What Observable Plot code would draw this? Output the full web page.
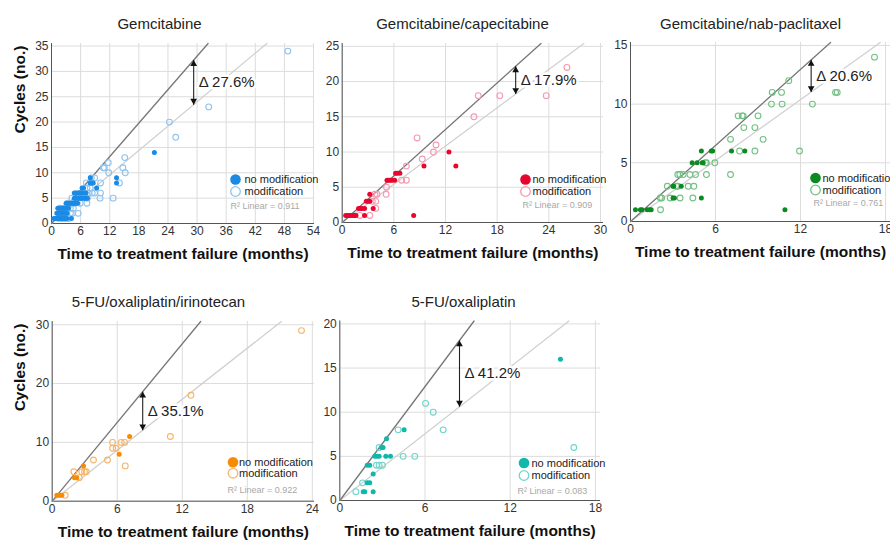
<!DOCTYPE html>
<html><head><meta charset="utf-8">
<script src="https://cdn.jsdelivr.net/npm/d3@7"></script>
<script src="https://cdn.jsdelivr.net/npm/@observablehq/plot@0.6"></script>
<style>
body{margin:0;background:#fff;}
#chart{position:relative;width:890px;height:540px;overflow:hidden;background:#fff;font-family:"Liberation Sans",Arial,sans-serif;}
#chart svg{position:absolute;max-width:none;}
</style></head><body><div id="chart"></div>
<script>
// ---------------- DATA ----------------
const panelTitles = ["Gemcitabine", "Gemcitabine/capecitabine", "Gemcitabine/nab-paclitaxel", "5-FU/oxaliplatin/irinotecan", "5-FU/oxaliplatin"];
const xAxisLabel = "Time to treatment failure (months)";
const yAxisLabel = "Cycles (no.)";
const legendLabels = ["no modification", "modification"];

// [months, cycles]
const gemNoMod = [[0.5,1],[0.8,1],[1.0,1],[1.3,1],[1.5,1],[1.8,1],[2.0,1],[2.3,1],[2.6,1],[2.9,1],[3.2,1],[4.1,1],
  [1.1,2],[1.4,2],[1.7,2],[2.0,2],[2.3,2],[2.6,2],[2.9,2],[3.2,2],
  [1.3,3],[1.6,3],[1.9,3],[2.2,3],[2.5,3],[2.8,3],[3.1,3],[3.5,3],
  [3.0,4],[3.3,4],[3.6,4],[3.9,4],[4.2,4],[4.5,4],[4.8,4],[5.1,4],[5.4,4],
  [4.7,5],[5.0,5],[5.3,5],[5.6,5],[5.9,5],[6.2,5],[6.5,5],[6.8,5],[7.1,5],[7.4,5],
  [4.7,6],[5.0,6],[5.3,6],[5.6,6],[5.9,6],[6.2,6],[6.5,6],[6.8,6],[7.1,6],
  [6.3,7],[6.6,7],[9.3,7],
  [8.0,8],[8.3,8],[8.6,8],[13.4,8],
  [8.0,9],[13.4,9],
  [21.2,14]];
const gemMod = [[1.5,1],[2.2,1],[2.8,1],[3.5,1],
  [1.5,2],[2.5,2],[3.9,2],[4.3,2],[5.5,2],
  [1.8,3],[2.6,3],[3.9,3],[4.5,3],
  [3.4,4],[4.6,4],[5.9,4],[7.3,4],
  [4.2,5],[7.4,5],[10.0,5],[12.7,5],
  [6.0,6],[7.6,6],[8.4,6],[8.9,6],[10.1,6],
  [7.3,7],[8.0,7],
  [7.2,8],[10.1,8],[14.0,8],
  [8.2,9],[8.9,9],
  [11.8,10],[15.2,10],
  [10.7,11],[10.9,11],[14.7,11],
  [11.7,12],[15.1,13],[25.6,17],[24.3,20],[32.4,23],[48.7,34]];

const capNoMod = [[0.4,1],[0.6,1],[0.8,1],[1.0,1],[1.2,1],[1.4,1],[1.6,1],[2.6,1],[8.3,1],
  [1.9,2],[2.1,2],[2.3,2],[2.6,2],[3.6,2],
  [2.8,3],[3.0,3],[3.2,3],
  [3.2,4],
  [5.2,6],[5.4,6],[5.6,6],[5.8,6],[6.1,6],
  [6.2,7],[6.4,7],[6.7,7],
  [9.5,8],[13.2,8],
  [12.4,10]];
const capMod = [[2.05,1],[3.2,1],[3.9,2],[3.5,3],[3.9,3],[3.8,4],[4.05,4],[5.1,4],[5.15,5],
  [6.9,6],[7.45,6],[7.45,8],[9.3,9],[10.6,10],[10.9,11],[8.7,12],[15.3,15],
  [15.8,18],[18.3,18],[23.7,18],[26.1,22]];

const nabNoMod = [[0.35,1],[0.7,1],[0.82,1],[1.18,1],[1.36,1],[1.46,1],[10.9,1],
  [3.0,2],[3.1,2],[5.0,2],
  [3.0,3],[3.05,3],[3.58,3],
  [4.35,5],[4.7,5],[5.06,5],[5.13,5],
  [5.0,6],[5.7,6],[5.8,6],[7.13,6],[8.07,6]];
const nabMod = [[2.12,1],
  [2.1,2],[2.2,2],[2.8,2],[3.5,2],[4.4,2],
  [2.6,3],[3.25,3],[3.34,3],[4.07,3],[4.47,3],
  [3.34,4],[3.48,4],[3.72,4],[4.19,4],[4.59,4],[5.36,4],[7.06,4],
  [5.3,5],[5.36,5],[5.95,5],
  [7.7,6],[8.78,6],[11.93,6],
  [7.06,7],[9.36,7],
  [8.0,8],[8.78,8],
  [7.6,9],[7.88,9],[7.95,9],[9.0,9],
  [9.95,10],[10.7,10],[12.84,10],
  [10.0,11],[10.66,11],[14.47,11],[14.59,11],
  [11.17,12],[17.22,14]];

const firNoMod = [[0.43,1],[0.6,1],[0.75,1],[0.89,1],[2.06,4],[2.27,4],[2.89,6],[6.18,8],[7.14,11]];
const firMod = [[1.2,1],[2.49,4],[2.0,5],[2.73,5],[2.98,5],[3.14,5],[6.74,6],[3.81,7],[5.1,7],
  [5.57,9],[5.9,9],[5.57,10],[6.37,10],[6.68,10],[10.9,11],[12.8,18],[23.0,29]];

const foxNoMod = [[1.65,1],[1.76,1],[2.35,1],[1.93,2],[2.11,2],[2.35,3],[1.93,4],[2.11,4],
  [2.46,5],[2.63,5],[2.77,5],[3.24,5],[3.57,5],[2.94,6],[3.05,6],[3.29,7],[4.53,8],[15.54,16]];
const foxMod = [[1.13,1],[1.6,2],[2.58,4],[2.77,4],[3.0,4],[4.46,5],[5.28,5],[2.77,6],
  [4.11,8],[7.28,8],[6.58,10],[6.04,11],[16.48,6]];

const noModSets = [gemNoMod, capNoMod, nabNoMod, firNoMod, foxNoMod];
const modSets = [gemMod, capMod, nabMod, firMod, foxMod];

// fitted slopes (cycles per month) of the two lines through the origin
const slopeNoMod = [1.10, 1.10, 1.08, 2.23, 2.15];
const slopeMod = [0.80, 0.905, 0.865, 1.445, 1.26];
const deltaLabels = ["Δ 27.6%", "Δ 17.9%", "Δ 20.6%", "Δ 35.1%", "Δ 41.2%"];
const deltaAtMonth = [29.3, 20.15, 12.75, 8.35, 8.43];
const r2Values = ["0.911", "0.909", "0.761", "0.922", "0.083"];

const xTicks = [[0,6,12,18,24,30,36,42,48,54],[0,6,12,18,24,30],[0,6,12,18],[0,6,12,18,24],[0,6,12,18]];
const yTicks = [[0,5,10,15,20,25,30,35],[0,5,10,15,20,25],[0,5,10,15],[0,10,20,30],[0,5,10,15,20]];
const xMax = [54.2, 30.35, 18.35, 24.2, 18.36];
const yMax = [35.5, 25.4, 15.25, 30.55, 20.33];

// ---------------- STYLE / LAYOUT ----------------
const filledColors = ["#1a8ae5", "#e8062f", "#0b8a22", "#f68b05", "#0fb8a8"];
const openColors = ["#8fc3f0", "#f59ab0", "#72c283", "#f7b56b", "#6fd5ca"];
const layout = [
  {left:0, top:0, w:320, h:270, pl:51, pr:314, pt:43, pb:223, tx:159, ty:23.5, lx:235, ly:179, ltx:244, lrow:12, rx:230, ry:206, ylab:true},
  {left:320, top:0, w:288, h:270, pl:341.7, pr:603, pt:43, pb:222, tx:462, ty:23.5, lx:525, ly:179, ltx:532, lrow:12, rx:522, ry:205, ylab:false},
  {left:608, top:0, w:282, h:270, pl:630, pr:890, pt:42, pb:221, tx:750, ty:23.5, lx:815, ly:177.5, ltx:822, lrow:12, rx:813, ry:203, ylab:false},
  {left:0, top:270, w:320, h:270, pl:51.7, pr:314, pt:321, pb:500.7, tx:158, ty:302, lx:232.5, ly:461.7, ltx:238.5, lrow:11, rx:227, ry:490, ylab:true},
  {left:320, top:270, w:290, h:270, pl:339.3, pr:600, pt:320.5, pb:500, tx:463, ty:302, lx:523.5, ly:462.5, ltx:531, lrow:12.5, rx:517, ry:490.5, ylab:false}
];

const container = document.getElementById("chart");
const FONT = "Liberation Sans, Arial, Helvetica, sans-serif";

layout.forEach((L, i) => {
  const sN = slopeNoMod[i], sM = slopeMod[i], ym = yMax[i];
  const lineNo = [[0, 0], [ym / sN, ym]];
  const lineMod = [[0, 0], [ym / sM, ym]];
  const ax = [deltaAtMonth[i]];
  const fa = {frameAnchor: "top-left", lineAnchor: "middle"};
  const fd = {frameAnchor: "top-left"};
  const offX = v => v - L.pl, offY = v => v - L.pt;

  const marks = [
    Plot.ruleX(xTicks[i], {stroke: "#dcdcdc", strokeWidth: 1}),
    Plot.ruleY(yTicks[i], {stroke: "#dcdcdc", strokeWidth: 1}),
    Plot.ruleX([0], {stroke: "#555", strokeWidth: 1}),
    Plot.ruleY([0], {stroke: "#555", strokeWidth: 1}),
    Plot.line(lineMod, {stroke: "#cfcfcf", strokeWidth: 1.2}),
    Plot.line(lineNo, {stroke: "#777", strokeWidth: 1.3}),
    Plot.dot(modSets[i], {x: d => d[0], y: d => d[1], r: 2.9, stroke: openColors[i], strokeWidth: 1.1, fill: "none"}),
    Plot.dot(noModSets[i], {x: d => d[0], y: d => d[1], r: 2.5, fill: filledColors[i], stroke: "none"}),
    // delta arrow
    Plot.link(ax, {x1: d => d, y1: d => sN * d, x2: d => d, y2: d => sM * d, stroke: "#222", strokeWidth: 1.1}),
    Plot.dot(ax, {x: d => d, y: d => sN * d, symbol: "triangle", r: 2.5, fill: "#111", stroke: "none", dy: 3.9}),
    Plot.dot(ax, {x: d => d, y: d => sM * d, symbol: "triangle", r: 2.5, fill: "#111", stroke: "none", rotate: 180, dy: -3.9}),
    Plot.text(ax, {x: d => d, y: d => d * (sN + sM) / 2, text: () => deltaLabels[i], textAnchor: "start", lineAnchor: "middle", dx: 5, fontSize: 15, fill: "#222", stroke: "white", strokeWidth: 5}),
    // legend
    Plot.dot([0], {...fd, dx: offX(L.lx), dy: offY(L.ly), r: 5.3, fill: filledColors[i], stroke: "none"}),
    Plot.dot([0], {...fd, dx: offX(L.lx), dy: offY(L.ly + L.lrow), r: 4.8, fill: "none", stroke: openColors[i], strokeWidth: 1.3}),
    Plot.text([legendLabels[0]], {...fa, text: d => d, dx: offX(L.ltx), dy: offY(L.ly), textAnchor: "start", fontSize: 11, fill: "#222"}),
    Plot.text([legendLabels[1]], {...fa, text: d => d, dx: offX(L.ltx), dy: offY(L.ly + L.lrow), textAnchor: "start", fontSize: 11, fill: "#222"}),
    Plot.text(["R² Linear = " + r2Values[i]], {...fa, text: d => d, dx: offX(L.rx), dy: offY(L.ry), textAnchor: "start", fontSize: 9, fill: "#a8a8a8"}),
    // title and axis labels
    Plot.text([panelTitles[i]], {...fa, text: d => d, dx: offX(L.tx), dy: offY(L.ty), textAnchor: "middle", fontSize: 15, fill: "#222"}),
    Plot.text([xAxisLabel], {frameAnchor: "bottom", lineAnchor: "middle", text: d => d, dy: 31, fontSize: 15.5, fontWeight: "bold", fill: "#111"})
  ];
  if (L.ylab) {
    marks.push(Plot.text([yAxisLabel], {frameAnchor: "left", lineAnchor: "middle", text: d => d, rotate: -90, dx: 19.5 - L.pl, fontSize: 15.5, fontWeight: "bold", fill: "#111"}));
  }

  const svg = Plot.plot({
    width: L.w, height: L.h,
    marginLeft: L.pl - L.left, marginRight: L.left + L.w - L.pr,
    marginTop: L.pt - L.top, marginBottom: L.top + L.h - L.pb,
    style: {fontFamily: FONT, fontSize: "12px", color: "#333", background: "white"},
    x: {domain: [0, xMax[i]], ticks: xTicks[i], tickSize: 0, tickPadding: 3, label: null},
    y: {domain: [0, ym], ticks: yTicks[i], tickSize: 0, tickPadding: 3, label: null},
    marks
  });
  svg.style.left = L.left + "px";
  svg.style.top = L.top + "px";
  container.appendChild(svg);
});
</script>
</body></html>
